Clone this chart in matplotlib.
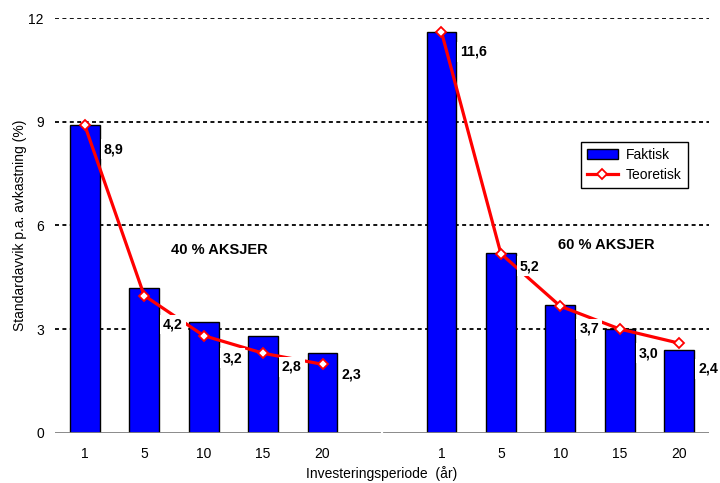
import numpy as np
import matplotlib
matplotlib.use("Agg")
import matplotlib.pyplot as plt
from matplotlib.lines import Line2D
from matplotlib.patches import Patch

plt.rcParams['font.family'] = ['Liberation Sans', 'DejaVu Sans']

# Data
periods = ["1", "5", "10", "15", "20"]
faktisk_40 = [8.9, 4.2, 3.2, 2.8, 2.3]
teoretisk_40 = [8.9, 3.97, 2.81, 2.3, 1.98]
faktisk_60 = [11.6, 5.2, 3.7, 3.0, 2.4]
teoretisk_60 = [11.6, 5.18, 3.66, 3.0, 2.59]
label_40 = [u"8,9", u"4,2", u"3,2", u"2,8", u"2,3"]
label_60 = [u"11,6", u"5,2", u"3,7", u"3,0", u"2,4"]
group_titles = ["40 % AKSJER", "60 % AKSJER"]

# label vertical offsets (pixels below the bar top)
label_dy_40 = [24, 37, 36, 31, 21]
label_dy_60 = [20, 13, 24, 24, 19]

fig = plt.figure(figsize=(7.2, 4.83), dpi=100)
ax = fig.add_axes([0.0764, 0.1041, 0.9083, 0.8586])

x40 = np.arange(5)
x60 = np.arange(5) + 6
bar_w = 0.5

for s in ax.spines.values():
    s.set_visible(False)

# dotted gridlines
for yv in [3, 6, 9, 12]:
    ax.axhline(yv, color='black', lw=1.3, dashes=(2.2, 1.9), zorder=1)

# broken x-axis line
ax.axhline(0, xmin=0, xmax=0.4954, color='#808080', lw=2, zorder=4)
ax.axhline(0, xmin=0.503, xmax=1, color='#808080', lw=2, zorder=4)

ax.bar(x40, faktisk_40, width=bar_w, color='#0000FF', edgecolor='black', lw=1, zorder=2)
ax.bar(x60, faktisk_60, width=bar_w, color='#0000FF', edgecolor='black', lw=1, zorder=2)

line_kw = dict(color='#FF0000', lw=2.3, marker='D', markersize=5,
               markerfacecolor='white', markeredgecolor='#FF0000', markeredgewidth=1.3, zorder=5)
ax.plot(x40, teoretisk_40, **line_kw)
ax.plot(x60, teoretisk_60, **line_kw)

for xs, vals, labs, dys in [(x40, faktisk_40, label_40, label_dy_40),
                            (x60, faktisk_60, label_60, label_dy_60)]:
    for xv, v, lab, dy in zip(xs, vals, labs, dys):
        ax.annotate(lab, xy=(xv + bar_w / 2, v), xytext=(4, -dy),
                    textcoords='offset pixels', ha='left', va='center',
                    fontsize=10.2, fontweight='bold', zorder=6,
                    bbox=dict(boxstyle='square,pad=0.2', fc='white', ec='none'))

ax.text(2.26, 5.29, group_titles[0], ha='center', va='center', fontsize=10.5, fontweight='bold')
ax.text(8.77, 5.43, group_titles[1], ha='center', va='center', fontsize=10.5, fontweight='bold')

ax.set_xlim(-0.5, 10.5)
ax.set_ylim(0, 12)
ax.set_xticks(list(x40) + list(x60))
ax.set_xticklabels(periods + periods, fontsize=10)
ax.set_yticks([0, 3, 6, 9, 12])
ax.set_yticklabels(["0", "3", "6", "9", "12"], fontsize=10)
ax.tick_params(axis='both', length=0)
ax.tick_params(axis='x', pad=10)
ax.tick_params(axis='y', pad=8)

ax.set_ylabel("Standardavvik p.a. avkastning (%)", fontsize=10, labelpad=1)
ax.set_xlabel(u"Investeringsperiode  (år)", fontsize=10, labelpad=4)

handles = [Patch(facecolor='#0000FF', edgecolor='black', lw=1),
           Line2D([0], [0], **{k: v for k, v in line_kw.items() if k != 'zorder'})]
leg = ax.legend(handles, ["Faktisk", "Teoretisk"], loc='upper left',
                bbox_to_anchor=(0.804, 0.702), borderaxespad=0, fontsize=10,
                fancybox=False, framealpha=1, edgecolor='black',
                handlelength=2.2, handletextpad=0.6, borderpad=0.45, labelspacing=0.45)
leg.get_frame().set_linewidth(1)

fig.savefig("out.png", dpi=100, facecolor='white')
